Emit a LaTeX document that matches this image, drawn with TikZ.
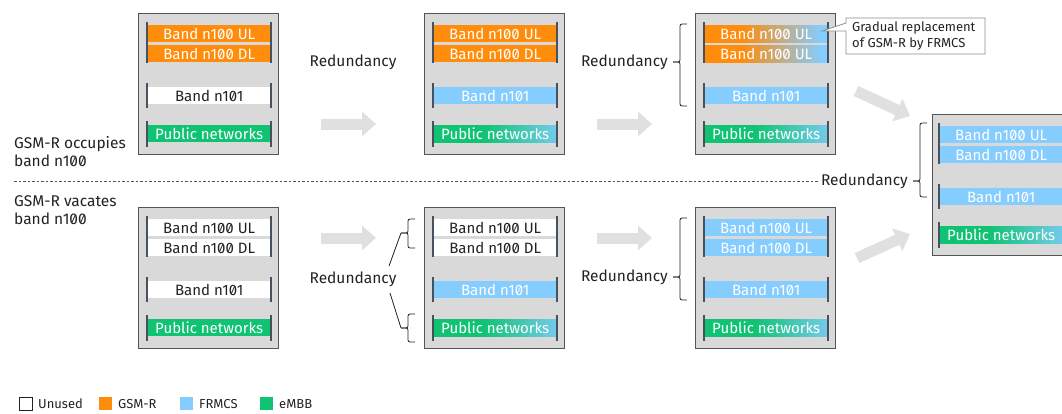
\documentclass[tikz,border=0pt]{standalone}
\usepackage{fontspec}
\setmainfont{Fira Sans}[RawFeature=+zero]
\usetikzlibrary{arrows.meta}
\definecolor{gsmr}{HTML}{FF8C0A}
\definecolor{frmcs}{HTML}{85CCFF}
\definecolor{embb}{HTML}{0FC373}
\definecolor{boxgray}{HTML}{D9D9D9}
\definecolor{boxline}{HTML}{555555}
\definecolor{tickc}{HTML}{47525C}
\definecolor{arrowgray}{HTML}{E0E0E0}
\definecolor{txt}{HTML}{222222}
\pgfdeclarehorizontalshading{gbshade}{100bp}{color(0bp)=(embb); color(45bp)=(embb); color(80bp)=(frmcs); color(100bp)=(frmcs)}
\pgfdeclarehorizontalshading{obshade}{100bp}{color(0bp)=(gsmr); color(40bp)=(gsmr); color(72bp)=(frmcs); color(100bp)=(frmcs)}
\tikzset{
 panel/.style={fill=boxgray, draw=boxline, line width=1pt, anchor=north west, minimum width=140pt, minimum height=141pt, inner sep=0pt},
 band/.style={anchor=north west, minimum width=124pt, minimum height=17pt, inner sep=0pt, font=\fontsize{15}{15}\selectfont, text=white},
 unused/.style={band, fill=white, text=txt},
 gsm/.style={band, fill=gsmr},
 fr/.style={band, fill=frmcs},
 mb/.style={band, fill=embb},
 mbfr/.style={band, shade, shading=gbshade},
 gsmfr/.style={band, shade, shading=obshade},
 tick/.style={draw=tickc, line width=1.3pt},
 fat/.style={draw=arrowgray, line width=11pt, -{Triangle[length=14pt,width=24pt]}},
 lbl/.style={font=\fontsize{15.5}{18}\selectfont, text=txt, inner sep=0pt},
 brace/.style={draw=txt, line width=0.8pt, rounded corners=2pt},
 legsq/.style={minimum width=13pt, minimum height=13pt, inner sep=0pt, anchor=north west},
 legtxt/.style={font=\fontsize{13}{13}\selectfont, text=txt, anchor=west, inner sep=0pt},
}
\newcommand\bandbox[9]{%
 \node[panel] (#1) at (#2,#3) {};
 \node[#4] (#1ul) at (#2+9,#3+12) {#5};
 \node[#6] (#1dl) at (#2+9,#3+32) {#7};
 \node[#8] (#1n) at (#2+9,#3+74) {Band n101};
 \node[#9] (#1p) at (#2+9,#3+112) {Public networks};
 \draw[tick] (#2+9,#3+9) -- (#2+9,#3+50) (#2+133,#3+9) -- (#2+133,#3+50);
 \draw[tick] (#2+9,#3+70) -- (#2+9,#3+95) (#2+133,#3+70) -- (#2+133,#3+95);
 \draw[tick] (#2+9,#3+108) -- (#2+9,#3+134) (#2+133,#3+108) -- (#2+133,#3+134);
}
\begin{document}
\begin{tikzpicture}[x=1pt,y=-1pt]
\useasboundingbox (0,0) rectangle (1062,413);
\clip (0,0) rectangle (1062,413);
% panels
\bandbox{A}{138}{13}{gsm}{Band n100 UL}{gsm}{Band n100 DL}{unused}{mb}
\bandbox{B}{424}{13}{gsm}{Band n100 UL}{gsm}{Band n100 DL}{fr}{mbfr}
\bandbox{C}{695}{13}{gsmfr}{Band n100 UL}{gsmfr}{Band n100 UL}{fr}{mbfr}
\bandbox{D}{138}{207}{unused}{Band n100 UL}{unused}{Band n100 DL}{unused}{mb}
\bandbox{E}{424}{207}{unused}{Band n100 UL}{unused}{Band n100 DL}{fr}{mbfr}
\bandbox{F}{695}{207}{fr}{Band n100 UL}{fr}{Band n100 DL}{fr}{mbfr}
% final panel, running past the right edge
\node[panel, minimum width=190pt] (G) at (932,114) {};
\fill[frmcs] (1050,126) rectangle (1100,143);
\fill[frmcs] (1050,146) rectangle (1100,163);
\fill[frmcs] (1050,188) rectangle (1100,205);
\fill[frmcs] (1050,226) rectangle (1100,243);
\node[fr] (Gul) at (939,126) {Band n100 UL};
\node[fr] (Gdl) at (939,146) {Band n100 DL};
\node[fr] (Gn) at (939,188) {Band n101};
\node[mbfr] (Gp) at (939,226) {Public networks};
\draw[tick] (939,123) -- (939,164) (939,184) -- (939,209) (939,222) -- (939,248);
% fat arrows
\coordinate (a1s) at (321,124); \coordinate (a1e) at (376,124);
\coordinate (a2s) at (597,124); \coordinate (a2e) at (652,124);
\coordinate (a3s) at (321,238); \coordinate (a3e) at (376,238);
\coordinate (a4s) at (597,238); \coordinate (a4e) at (652,238);
\coordinate (a5s) at (856,91); \coordinate (a5e) at (910,116);
\coordinate (a6s) at (857,258); \coordinate (a6e) at (910,234);
\draw[fat] (a1s) -- (a1e);
\draw[fat] (a2s) -- (a2e);
\draw[fat] (a3s) -- (a3e);
\draw[fat] (a4s) -- (a4e);
\draw[fat] (a5s) -- (a5e);
\draw[fat] (a6s) -- (a6e);
% redundancy labels
\node[lbl] (r1) at (353,62) {Redundancy};
\node[lbl, anchor=east] (r2) at (668,62) {Redundancy};
\draw[brace] (687,24) -- (680,24) -- (680,62) -- (673,62);
\draw[brace] (673,62) -- (680,62) -- (680,106) -- (687,106);
\node[lbl, anchor=east] (r5) at (668,277) {Redundancy};
\draw[brace] (687,218) -- (680,218) -- (680,277) -- (673,277);
\draw[brace] (673,277) -- (680,277) -- (680,300) -- (687,300);
\node[lbl, anchor=east] (r3) at (908,181) {Redundancy};
\draw[brace] (927,123) -- (920,123) -- (920,181) -- (913,181);
\draw[brace] (913,181) -- (920,181) -- (920,197) -- (927,197);
\coordinate (dashL) at (14,181);
\draw[boxline, line width=0.8pt, dash pattern=on 2.5pt off 2pt] (dashL) -- ([xshift=-3pt]r3.west);
\node[lbl] (r4) at (353,279) {Redundancy};
\coordinate (u1) at (401,233); \coordinate (l1) at (401,328);
\draw[brace] (415,219) -- (408,219) -- (408,233) -- (u1);
\draw[brace] (u1) -- (408,233) -- (408,248) -- (415,248);
\draw[brace] (415,314) -- (408,314) -- (408,328) -- (l1);
\draw[brace] (l1) -- (408,328) -- (408,342) -- (415,342);
\coordinate (u2) at (389,266); \coordinate (l2) at (390,293);
\draw[txt, line width=0.8pt] (u1) -- (u2);
\draw[txt, line width=0.8pt] (l1) -- (l2);
% side labels
\node[lbl, anchor=west, align=left] (occ) at (14,152) {GSM-R occupies\\band n100};
\node[lbl, anchor=west, align=left] (vac) at (14,210) {GSM-R vacates\\band n100};
% callout
\draw[draw=black!45, fill=white, line width=0.8pt] (846,18) -- (985,18) -- (985,54) -- (846,54) -- (846,31) -- (822,31) -- (846,23) -- cycle;
\node[font=\fontsize{13}{16}\selectfont, text=txt, align=left, anchor=west, inner sep=0pt] (call) at (852,36) {Gradual replacement\\of GSM-R by FRMCS};
% legend
\node[legsq, fill=white, draw=txt, line width=0.8pt] (k1) at (19,397) {};
\node[legtxt] (k1t) at (38,404) {Unused};
\node[legsq, fill=gsmr] (k2) at (99,397) {};
\node[legtxt] (k2t) at (118,404) {GSM-R};
\node[legsq, fill=frmcs] (k3) at (180,397) {};
\node[legtxt] (k3t) at (199,404) {FRMCS};
\node[legsq, fill=embb] (k4) at (260,397) {};
\node[legtxt] (k4t) at (279,404) {eMBB};
\end{tikzpicture}
\end{document}
